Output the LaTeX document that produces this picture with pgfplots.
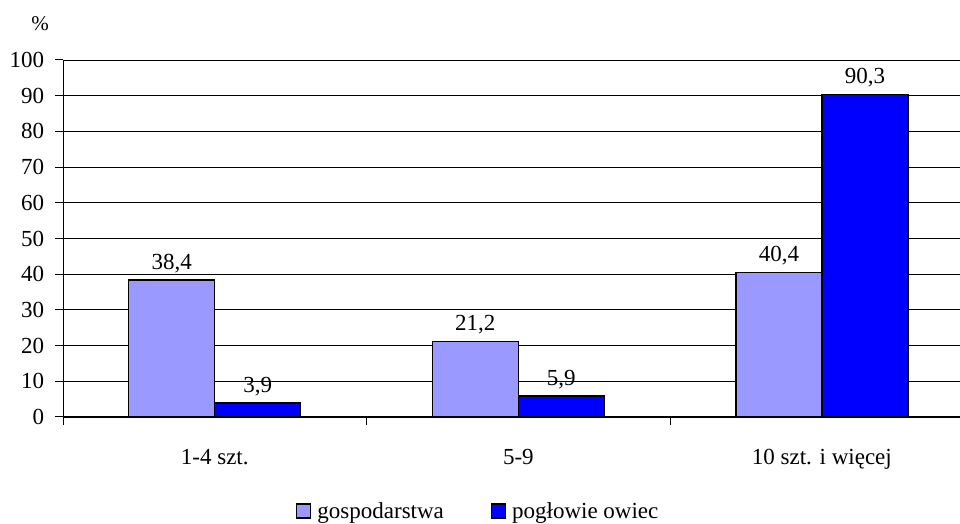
\documentclass[border=0pt]{standalone}
\usepackage{fontspec}
\setmainfont{Liberation Serif}
\usepackage{pgfplots}
\pgfplotsset{compat=1.18}
\definecolor{lpurple}{HTML}{9999FF}
\definecolor{dblue}{HTML}{0000FF}
\begin{document}
\fontsize{23}{27}\selectfont
\begin{tikzpicture}
\useasboundingbox (0pt,0pt) rectangle (960pt,524pt);
\node[font=\fontsize{21}{25}\selectfont] at (40pt,500pt) {\%};
\begin{axis}[
  at={(63pt,107pt)}, anchor=south west,
  width=897pt, height=357pt, scale only axis,
  xmin=-0.5, xmax=2.455, ymin=0, ymax=100,
  axis lines*=left,
  axis line style={black, line width=1pt},
  ytick={0,10,...,100},
  xtick={0,1,2},
  xticklabels={1-4 szt.,5-9,10 szt. i więcej},
  minor xtick={-0.5,0.5,1.5},
  major x tick style={draw=none},
  tick align=outside,
  major tick length=8pt, minor tick length=8pt,
  tick style={black, line width=1pt},
  ymajorgrids,
  major y grid style={black, line width=0.8pt},
  /pgf/number format/assume math mode=true,
  tick label style={font=\fontsize{23}{27}\selectfont},
  yticklabel style={xshift=-3pt},
  xticklabel style={yshift=-16pt},
  ybar, bar width=0.2833,
  nodes near coords,
  nodes near coords style={font=\fontsize{23}{27}\selectfont, yshift=-1pt,
    /pgf/number format/.cd, use comma, fixed, fixed zerofill, precision=1, assume math mode=true},
  legend columns=2,
  legend style={draw=none, at={(0.463,-0.266)}, anchor=center,
    font=\fontsize{23}{27}\selectfont,
    /tikz/every odd column/.append style={column sep=4pt},
    /tikz/every even column/.append style={column sep=45pt}},
  legend image code/.code={\draw[#1, line width=1.2pt] (0pt,-6pt) rectangle (14pt,8pt);},
]
\addplot[ybar, bar shift=-0.14165, fill=lpurple, draw=black, line width=1.3pt]
  coordinates {(0,38.4) (1,21.2) (2,40.4)};
\addplot[ybar, bar shift=0.14165, fill=dblue, draw=black, line width=1.3pt]
  coordinates {(0,3.9) (1,5.9) (2,90.3)};
\legend{gospodarstwa, pogłowie owiec}
\end{axis}
\end{tikzpicture}
\end{document}
